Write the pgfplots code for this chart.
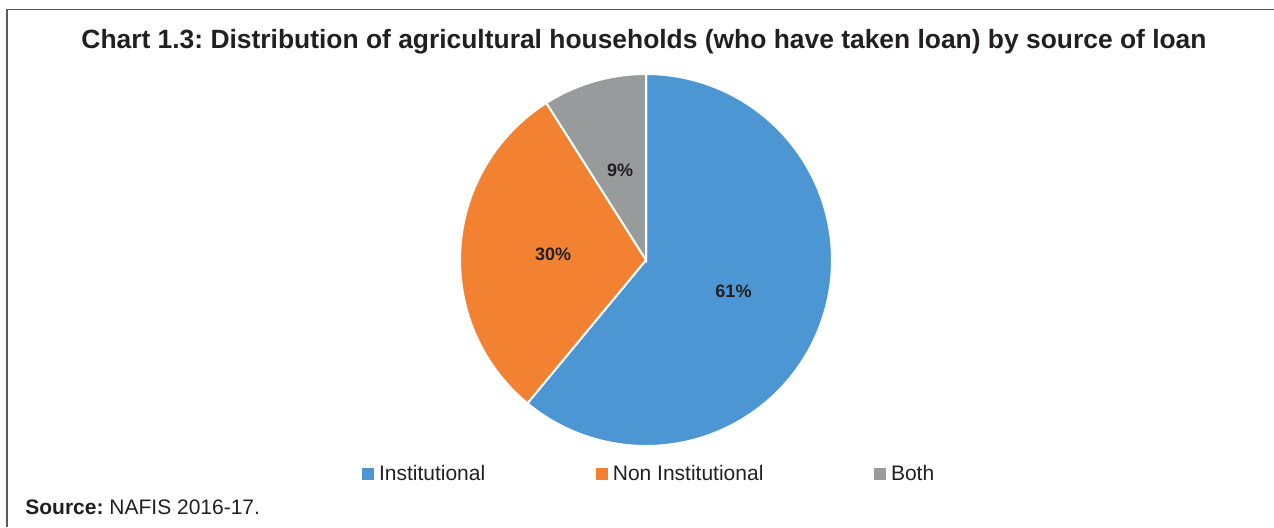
\documentclass[border=0pt]{standalone}
\usepackage{fontspec}
\setmainfont{Liberation Sans}
\usepackage{pgfplots}
\pgfplotsset{compat=1.18}
\usepgfplotslibrary{polar}
\definecolor{cblue}{HTML}{4C97D3}
\definecolor{corange}{HTML}{F28232}
\definecolor{cgray}{HTML}{989B9C}
\definecolor{framec}{HTML}{5A5A5A}
\definecolor{txt}{HTML}{231F20}
\frenchspacing
\begin{document}
\begin{tikzpicture}
\useasboundingbox (0,0) rectangle (637pt,263.5pt);
\draw[framec, line width=0.75pt] (3.5pt,0) -- (3.5pt,258.75pt) -- (637pt,258.75pt);
\node[anchor=base, font=\bfseries\fontsize{13.2}{15}\selectfont, text=txt, inner sep=0pt] at (322pt,239.5pt) {Chart 1.3: Distribution of agricultural households (who have taken loan) by source of loan};
\node[anchor=base west, font=\fontsize{10.5}{12}\selectfont, text=txt, inner sep=0pt] at (12.5pt,6.5pt) {\textbf{Source:} NAFIS 2016-17.};
% shares (percent)
\pgfmathsetmacro{\pA}{61}% Institutional
\pgfmathsetmacro{\pB}{30}% Non Institutional
\pgfmathsetmacro{\pC}{9}% Both
\pgfmathsetmacro{\aA}{90-3.6*\pA}
\pgfmathsetmacro{\aB}{\aA-3.6*\pB}
\pgfmathsetmacro{\mA}{(90+\aA)/2}
\pgfmathsetmacro{\mB}{(\aA+\aB)/2}
\pgfmathsetmacro{\aC}{90+3.6*\pC}
\pgfmathsetmacro{\mC}{(90+\aC)/2}
\begin{polaraxis}[at={(323pt,133.5pt)}, anchor=center, scale only axis,
  width=186pt, height=186pt, ymin=0, ymax=1, hide axis, clip=false,
  legend style={at={(0.509,-0.076)}, anchor=center, draw=none, fill=none,
    legend columns=3, /tikz/every even column/.append style={column sep=54.5pt},
    /tikz/every odd column/.append style={column sep=1.5pt},
    nodes={inner xsep=1pt, inner ysep=1pt},
    font=\fontsize{10.5}{12}\selectfont, text=txt, inner sep=0pt},
  legend image code/.code={\fill[#1,draw=none] (0pt,-2.9pt) rectangle (5.8pt,2.9pt);}]
\addplot[fill=cblue, draw=white, line width=1pt, domain=\aA:90, samples=120] {1} -- (axis cs:0,0) -- cycle;
\addlegendentry{Institutional}
\addplot[fill=corange, draw=white, line width=1pt, domain=\aB:\aA, samples=80] {1} -- (axis cs:0,0) -- cycle;
\addlegendentry{Non Institutional}
\addplot[fill=cgray, draw=white, line width=1pt, domain=90:\aC, samples=40] {1} -- (axis cs:0,0) -- cycle;
\addlegendentry{Both}
\node[font=\bfseries\fontsize{9}{11}\selectfont, text=txt] at (axis cs:\mA,0.5) {61\%};
\node[font=\bfseries\fontsize{9}{11}\selectfont, text=txt] at (axis cs:\mB,0.5) {30\%};
\node[font=\bfseries\fontsize{9}{11}\selectfont, text=txt] at (axis cs:\mC,0.5) {9\%};
\end{polaraxis}
\end{tikzpicture}
\end{document}
